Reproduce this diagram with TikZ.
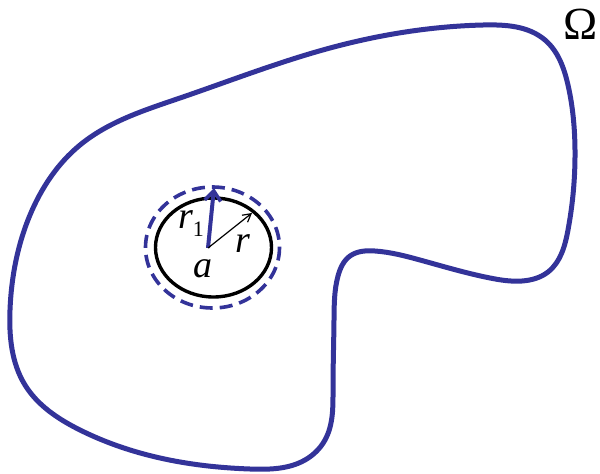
\documentclass[tikz,border=0pt]{standalone}
\usepackage{fontspec}
\setmainfont{Liberation Serif}
\usetikzlibrary{arrows.meta,hobby}
\definecolor{omblue}{RGB}{51,51,153}
\tikzset{
  outline/.style={draw=omblue, line width=5pt, line join=round},
  dashring/.style={draw=omblue, line width=3.6pt, dash pattern=on 13pt off 7pt},
  solidring/.style={draw=black, line width=3.4pt},
  bigarrow/.style={draw=omblue, line width=4pt, -{Straight Barb[length=10pt,width=16pt,line width=3.5pt]}},
  thinarrow/.style={draw=black, line width=1.2pt, -{Straight Barb[length=8pt,width=9pt,line width=1.2pt]}},
  lab/.style={inner sep=0pt, anchor=base, font=\fontsize{38}{38}\selectfont\itshape}
}
\begin{document}
\begin{tikzpicture}[x=1pt,y=-1pt]
\useasboundingbox (0,0) rectangle (600,474);
\draw[outline, use Hobby shortcut, closed=true]
 (10,310) .. (30,215) .. (80,145) .. (180,98) .. (330,48) .. (483,25)
 .. (545,40) .. (568,85) .. (575,150) .. (568,230) .. (548,272) .. (522,281)
 .. (490,278) .. (420,260) .. (375,251) .. (350,256) .. (338,276)
 .. (334,320) .. (333,390) .. (325,440) .. (305,460) .. (250,469)
 .. (200,465) .. (80,430) .. (25,385);
\draw[dashring] (212.5,247.5) ellipse [x radius=67, y radius=60.5];
\draw[solidring] (213.5,247.5) ellipse [x radius=58, y radius=49.5];
\coordinate (a) at (208,248);
\coordinate (t1) at (214,188);
\coordinate (t2) at (252,213);
\draw[bigarrow] (a) -- (t1);
\draw[thinarrow] (a) -- (t2);
\node[lab] (la) at (203,277) {a};
\node[lab] (lr) at (243,252) {r};
\node[lab] (lr1) at (191,228) {r\raisebox{-8pt}{\fontsize{22}{22}\selectfont\upshape 1}};
\node[inner sep=0pt, font=\fontsize{46}{46}\selectfont] (om) at (581,24) {Ω};
\end{tikzpicture}
\end{document}
